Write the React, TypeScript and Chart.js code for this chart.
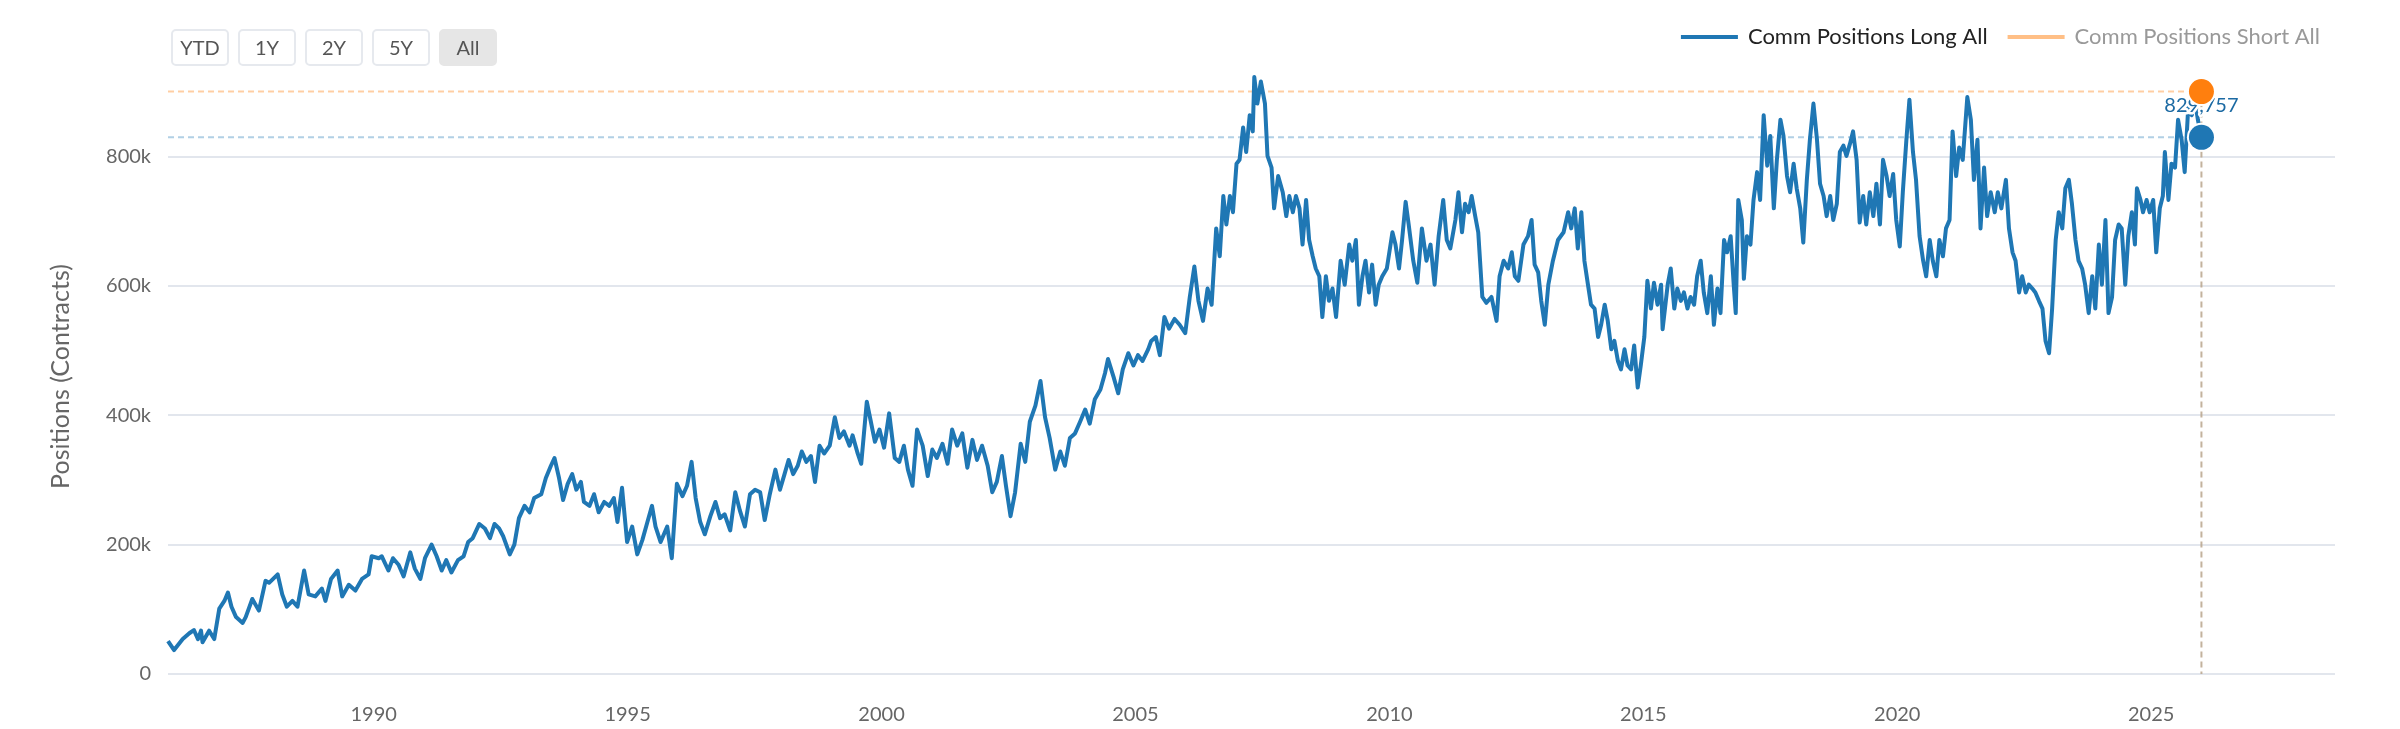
import React, { useEffect, useRef } from 'react';
import { Chart, registerables } from 'chart.js';

Chart.register(...registerables);

// ---- DATA ----
// Dates as decimal years, values in thousands of contracts
const longDates: number[] = [
  1985.95, 1986.07, 1986.24, 1986.37, 1986.46, 1986.54, 1986.60, 1986.63, 1986.76, 1986.86, 1986.96,
  1987.06, 1987.13, 1987.20, 1987.29, 1987.42, 1987.48, 1987.61, 1987.74, 1987.87, 1987.94,
  1988.11, 1988.20, 1988.29, 1988.40, 1988.50, 1988.63, 1988.72, 1988.85, 1988.98,
  1989.05, 1989.16, 1989.29, 1989.38, 1989.51, 1989.64, 1989.77, 1989.90, 1989.96,
  1990.10, 1990.16, 1990.29, 1990.38, 1990.49, 1990.59, 1990.72, 1990.81, 1990.92,
  1991.01, 1991.14, 1991.24, 1991.34, 1991.43, 1991.53, 1991.66, 1991.77, 1991.86, 1991.95,
  1992.08, 1992.19, 1992.29, 1992.38, 1992.47, 1992.55, 1992.68, 1992.77, 1992.86, 1992.97,
  1993.07, 1993.16, 1993.30, 1993.39, 1993.49, 1993.56, 1993.65, 1993.73, 1993.82, 1993.91, 1993.99,
  1994.08, 1994.14, 1994.25, 1994.34, 1994.43, 1994.54, 1994.64, 1994.73, 1994.80, 1994.89, 1994.99,
  1995.09, 1995.19, 1995.29, 1995.39, 1995.48, 1995.55, 1995.65, 1995.78, 1995.87, 1995.97,
  1996.08, 1996.17, 1996.26, 1996.34, 1996.43, 1996.52, 1996.63, 1996.73, 1996.82, 1996.91,
  1997.02, 1997.12, 1997.21, 1997.31, 1997.41, 1997.51, 1997.61, 1997.70, 1997.80, 1997.91,
  1998.00, 1998.09, 1998.17, 1998.26, 1998.35, 1998.43, 1998.52, 1998.61, 1998.69, 1998.78, 1998.87, 1998.98,
  1999.08, 1999.17, 1999.26, 1999.37, 1999.43, 1999.53, 1999.60, 1999.71, 1999.79, 1999.87, 1999.96,
  2000.05, 2000.15, 2000.26, 2000.35, 2000.44, 2000.52, 2000.61, 2000.70, 2000.81, 2000.91,
  2001.00, 2001.09, 2001.20, 2001.30, 2001.39, 2001.49, 2001.59, 2001.69, 2001.79, 2001.88, 2001.98,
  2002.09, 2002.18, 2002.27, 2002.37, 2002.45, 2002.54, 2002.63, 2002.74, 2002.83, 2002.92,
  2003.03, 2003.13, 2003.22, 2003.31, 2003.42, 2003.52, 2003.61, 2003.71, 2003.81, 2003.91,
  2004.01, 2004.10, 2004.20, 2004.31, 2004.40, 2004.46, 2004.57, 2004.66, 2004.75, 2004.86, 2004.96,
  2005.05, 2005.14, 2005.25, 2005.31, 2005.40, 2005.48, 2005.57, 2005.66, 2005.77, 2005.87, 2005.98,
  2006.07, 2006.16, 2006.24, 2006.33, 2006.42, 2006.50, 2006.59, 2006.66, 2006.73, 2006.79, 2006.86, 2006.92, 2006.99,
  2007.05, 2007.12, 2007.18, 2007.25, 2007.31, 2007.34, 2007.40, 2007.47, 2007.55, 2007.60, 2007.68, 2007.73, 2007.81, 2007.90, 2007.97,
  2008.03, 2008.10, 2008.16, 2008.23, 2008.29, 2008.36, 2008.42, 2008.49, 2008.55, 2008.62, 2008.68, 2008.75, 2008.81, 2008.88, 2008.95,
  2009.04, 2009.12, 2009.21, 2009.27, 2009.34, 2009.40, 2009.47, 2009.53, 2009.60, 2009.66, 2009.73, 2009.79, 2009.86, 2009.95,
  2010.06, 2010.12, 2010.19, 2010.25, 2010.32, 2010.38, 2010.47, 2010.55, 2010.64, 2010.73, 2010.81, 2010.89, 2010.97,
  2011.06, 2011.13, 2011.20, 2011.30, 2011.36, 2011.43, 2011.49, 2011.56, 2011.62, 2011.69, 2011.75, 2011.83, 2011.91,
  2012.01, 2012.11, 2012.17, 2012.25, 2012.34, 2012.41, 2012.47, 2012.54, 2012.64, 2012.73, 2012.80, 2012.86, 2012.93, 2012.99,
  2013.06, 2013.13, 2013.22, 2013.32, 2013.43, 2013.52, 2013.58, 2013.65, 2013.71, 2013.78, 2013.84, 2013.91, 2013.97,
  2014.04, 2014.11, 2014.17, 2014.24, 2014.30, 2014.37, 2014.43, 2014.50, 2014.56, 2014.63, 2014.69, 2014.76, 2014.82, 2014.89, 2014.95,
  2015.02, 2015.08, 2015.15, 2015.21, 2015.28, 2015.35, 2015.38, 2015.48, 2015.54, 2015.61, 2015.67, 2015.74, 2015.80, 2015.87, 2015.93,
  2016.00, 2016.06, 2016.13, 2016.19, 2016.26, 2016.33, 2016.39, 2016.46, 2016.52, 2016.59, 2016.65, 2016.72, 2016.78, 2016.82, 2016.87, 2016.94, 2016.98,
  2017.04, 2017.11, 2017.17, 2017.24, 2017.30, 2017.37, 2017.44, 2017.50, 2017.57, 2017.63, 2017.70, 2017.76, 2017.83, 2017.89, 2017.96,
  2018.02, 2018.09, 2018.15, 2018.22, 2018.28, 2018.35, 2018.42, 2018.48, 2018.55, 2018.61, 2018.68, 2018.74, 2018.81, 2018.87, 2018.94,
  2019.00, 2019.07, 2019.13, 2019.20, 2019.26, 2019.33, 2019.39, 2019.46, 2019.53, 2019.59, 2019.66, 2019.72, 2019.79, 2019.85, 2019.92, 2019.98,
  2020.05, 2020.11, 2020.18, 2020.24, 2020.31, 2020.37, 2020.44, 2020.51, 2020.57, 2020.64, 2020.70, 2020.77, 2020.83, 2020.90, 2020.96,
  2021.03, 2021.09, 2021.16, 2021.22, 2021.29, 2021.38, 2021.45, 2021.51, 2021.58, 2021.64, 2021.71, 2021.77, 2021.84, 2021.92, 2021.98,
  2022.05, 2022.14, 2022.20, 2022.27, 2022.33, 2022.40, 2022.46, 2022.53, 2022.59, 2022.66, 2022.72, 2022.79, 2022.86, 2022.92, 2022.99,
  2023.05, 2023.12, 2023.18, 2023.25, 2023.31, 2023.38, 2023.44, 2023.51, 2023.57, 2023.64, 2023.70, 2023.77, 2023.84, 2023.90, 2023.97,
  2024.03, 2024.10, 2024.16, 2024.23, 2024.29, 2024.36, 2024.42, 2024.49, 2024.55, 2024.62, 2024.68, 2024.72, 2024.79, 2024.84, 2024.91, 2024.97,
  2025.04, 2025.10, 2025.17, 2025.23, 2025.27, 2025.34, 2025.40, 2025.47, 2025.53, 2025.60, 2025.66, 2025.73, 2025.80, 2025.86, 2025.92, 2025.99,
];

const longValuesK: number[] = [
  51, 37, 54, 63, 68, 54, 67, 49, 67, 54, 101,
  113, 126, 104, 88, 79, 88, 116, 98, 144, 141,
  154, 123, 104, 113, 104, 160, 123, 120, 132,
  113, 147, 160, 120, 138, 129, 147, 154, 182,
  179, 182, 160, 179, 169, 151, 188, 163, 147,
  179, 200, 182, 160, 176, 157, 176, 182, 204, 210,
  232, 225, 210, 232, 225, 213, 185, 200, 241, 260,
  250, 272, 278, 303, 322, 334, 303, 269, 294, 309, 285,
  297, 266, 260, 278, 250, 266, 260, 272, 235, 288, 204,
  228, 185, 207, 235, 260, 228, 204, 228, 179, 294,
  275, 291, 328, 272, 235, 216, 244, 266, 241, 247,
  222, 281, 253, 228, 278, 285, 281, 238, 278, 316,
  285, 309, 331, 309, 322, 344, 328, 337, 297, 353, 341, 353,
  397, 365, 375, 353, 369, 341, 325, 421, 390, 359, 378,
  350, 403, 334, 328, 353, 316, 291, 378, 353, 306,
  347, 334, 356, 325, 378, 353, 372, 319, 362, 331, 353,
  322, 281, 297, 337, 291, 244, 281, 356, 328, 390,
  415, 453, 397, 365, 316, 344, 322, 365, 372, 390,
  409, 387, 425, 440, 465, 487, 459, 434, 471, 496, 477,
  493, 484, 502, 515, 521, 493, 552, 534, 549, 540, 527,
  583, 630, 577, 546, 596, 571, 689, 646, 739, 695, 739, 714, 789,
  795, 845, 807, 864, 839, 923, 882, 916, 882, 801, 783, 720, 770, 745, 708,
  739, 714, 739, 720, 664, 733, 671, 646, 627, 615, 552, 615, 577, 596, 552,
  639, 602, 664, 639, 671, 571, 615, 639, 590, 633, 571, 602, 615, 627,
  683, 664, 627, 671, 730, 695, 639, 605, 689, 639, 664, 602, 677,
  733, 671, 658, 702, 745, 683, 727, 714, 739, 708, 683, 583, 574,
  583, 546, 615, 639, 627, 652, 615, 608, 664, 677, 702, 633, 621, 577,
  540, 602, 639, 671, 683, 714, 689, 720, 658, 714, 639, 602, 571,
  565, 521, 540, 571, 546, 502, 515, 484, 471, 502, 477, 471, 508, 443, 477,
  521, 608, 565, 605, 571, 602, 533, 602, 627, 565, 596, 577, 590, 565, 583,
  571, 615, 639, 590, 558, 615, 540, 596, 558, 671, 652, 677, 602, 558, 733, 702, 611,
  677, 664, 733, 776, 733, 864, 786, 832, 720, 795, 857, 832, 770, 745, 789,
  751, 720, 667, 764, 826, 882, 826, 758, 739, 708, 739, 702, 727, 807, 817,
  801, 820, 839, 795, 698, 739, 695, 745, 708, 758, 695, 795, 770, 739, 773, 702,
  661, 745, 826, 888, 807, 764, 677, 639, 615, 671, 639, 615, 671, 646, 689,
  702, 839, 770, 814, 795, 892, 857, 764, 826, 689, 783, 708, 745, 714, 745,
  720, 764, 689, 652, 639, 590, 615, 590, 602, 596, 590, 577, 565, 515, 496,
  565, 671, 714, 689, 751, 764, 727, 671, 639, 627, 602, 558, 615, 565, 664,
  602, 702, 558, 583, 671, 695, 689, 602, 677, 714, 664, 751, 733, 714, 733, 714,
  733, 652, 720, 739, 807, 733, 789, 783, 857, 826, 776, 876, 864, 888, 857, 829.757,
];

// The short series is hidden in the legend; only its latest value is marked
const shortLastDate = 2025.99;
const shortLastValueK = 900.5;

const seriesNames = ['Comm Positions Long All', 'Comm Positions Short All'];
const xTickYears = [1990, 1995, 2000, 2005, 2010, 2015, 2020, 2025];
const yTickValues = [0, 200000, 400000, 600000, 800000];
const rangeButtons = ['YTD', '1Y', '2Y', '5Y', 'All'];
const activeButton = 'All';
const yAxisTitle = 'Positions (Contracts)';

// ---- STYLE ----
const FONT = "Lato, 'Open Sans', 'DejaVu Sans', sans-serif";
const LONG_COLOR = '#1f77b4';
const SHORT_COLOR = '#ff7f0e';

const lastValuePlugin = {
  id: 'lastValueMarkers',
  beforeDatasetsDraw(chart: any) {
    const { ctx, chartArea, scales } = chart;
    const x = scales.x;
    const y = scales.y;
    const n = longDates.length - 1;
    const xl = x.getPixelForValue(longDates[n]);
    const yl = y.getPixelForValue(longValuesK[n] * 1000);
    const xs = x.getPixelForValue(shortLastDate);
    const ys = y.getPixelForValue(shortLastValueK * 1000);
    ctx.save();
    ctx.lineWidth = 2;
    ctx.setLineDash([6, 4]);
    ctx.strokeStyle = 'rgba(255,127,14,0.38)';
    ctx.beginPath();
    ctx.moveTo(chartArea.left, ys);
    ctx.lineTo(xs, ys);
    ctx.stroke();
    ctx.strokeStyle = 'rgba(31,119,180,0.35)';
    ctx.beginPath();
    ctx.moveTo(chartArea.left, yl);
    ctx.lineTo(xl, yl);
    ctx.stroke();
    ctx.strokeStyle = 'rgba(185,165,140,0.85)';
    ctx.beginPath();
    ctx.moveTo(xs, ys);
    ctx.lineTo(xs, chartArea.bottom);
    ctx.stroke();
    ctx.restore();
  },
  afterDatasetsDraw(chart: any) {
    const { ctx, scales } = chart;
    const x = scales.x;
    const y = scales.y;
    const n = longDates.length - 1;
    const lastVal = Math.round(longValuesK[n] * 1000);
    const xl = x.getPixelForValue(longDates[n]);
    const yl = y.getPixelForValue(lastVal);
    const xs = x.getPixelForValue(shortLastDate);
    const ys = y.getPixelForValue(shortLastValueK * 1000);
    ctx.save();
    // value label
    ctx.font = `20px ${FONT}`;
    ctx.textAlign = 'center';
    ctx.textBaseline = 'middle';
    const label = lastVal.toLocaleString('en-US');
    ctx.lineJoin = 'round';
    ctx.lineWidth = 5;
    ctx.strokeStyle = '#ffffff';
    ctx.strokeText(label, xl, yl - 32);
    ctx.fillStyle = '#1c6aa3';
    ctx.fillText(label, xl, yl - 32);
    // markers
    const dot = (cx: number, cy: number, color: string) => {
      ctx.beginPath();
      ctx.arc(cx, cy, 14.5, 0, Math.PI * 2);
      ctx.fillStyle = '#ffffff';
      ctx.fill();
      ctx.beginPath();
      ctx.arc(cx, cy, 12.5, 0, Math.PI * 2);
      ctx.fillStyle = color;
      ctx.fill();
    };
    dot(xl, yl, LONG_COLOR);
    dot(xs, ys, SHORT_COLOR);
    ctx.restore();
  },
  afterDraw(chart: any) {
    const { ctx } = chart;
    ctx.save();
    ctx.font = `22px ${FONT}`;
    ctx.textBaseline = 'middle';
    ctx.textAlign = 'left';
    const right = 2320;
    const cy = 37;
    const symW = 57;
    const symGap = 10;
    const itemGap = 20;
    const w2 = ctx.measureText(seriesNames[1]).width;
    const w1 = ctx.measureText(seriesNames[0]).width;
    const t2 = right - w2;
    const s2 = t2 - symGap - symW;
    const t1 = s2 - itemGap - w1;
    const s1 = t1 - symGap - symW;
    ctx.fillStyle = LONG_COLOR;
    ctx.fillRect(s1, cy - 2, symW, 4);
    ctx.fillStyle = '#222222';
    ctx.fillText(seriesNames[0], t1, cy);
    ctx.fillStyle = 'rgba(255,127,14,0.5)';
    ctx.fillRect(s2, cy - 2, symW, 4);
    ctx.fillStyle = '#999999';
    ctx.fillText(seriesNames[1], t2, cy);
    ctx.restore();
  },
};

export default function App() {
  const canvasRef = useRef<HTMLCanvasElement | null>(null);

  useEffect(() => {
    if (!canvasRef.current) return;
    const longData = longDates.map((d, i) => ({ x: d, y: longValuesK[i] * 1000 }));
    const chart = new Chart(canvasRef.current, {
      type: 'line',
      data: {
        datasets: [
          {
            label: seriesNames[0],
            data: longData,
            borderColor: LONG_COLOR,
            backgroundColor: LONG_COLOR,
            borderWidth: 4,
            pointRadius: 0,
            tension: 0,
            borderJoinStyle: 'round',
            clip: false,
          },
          {
            label: seriesNames[1],
            data: [{ x: shortLastDate, y: shortLastValueK * 1000 }],
            borderColor: SHORT_COLOR,
            backgroundColor: SHORT_COLOR,
            pointRadius: 0,
            hidden: true,
          },
        ],
      },
      options: {
        animation: false,
        responsive: false,
        devicePixelRatio: 1,
        events: [],
        layout: { padding: { top: 79, right: 65, left: 0, bottom: 0 } },
        plugins: {
          legend: { display: false },
          tooltip: { enabled: false },
        },
        scales: {
          x: {
            type: 'linear',
            min: 1985.95,
            max: 2028.62,
            grid: { display: false, drawTicks: false },
            border: { display: false },
            afterBuildTicks: (s: any) => {
              s.ticks = xTickYears.map((v) => ({ value: v }));
            },
            afterFit: (s: any) => {
              s.height = 55;
            },
            ticks: {
              color: '#666666',
              font: { family: FONT, size: 20 },
              padding: 29,
              maxRotation: 0,
              autoSkip: false,
              callback: (v: any) => String(v),
            },
          },
          y: {
            type: 'linear',
            min: 0,
            max: 920000,
            grid: { color: '#e2e6ed', lineWidth: 2, drawTicks: false },
            border: { display: false },
            afterBuildTicks: (s: any) => {
              s.ticks = yTickValues.map((v) => ({ value: v }));
            },
            afterFit: (s: any) => {
              s.width = 168;
            },
            ticks: {
              color: '#666666',
              font: { family: FONT, size: 20 },
              padding: 17,
              callback: (v: any) => (v === 0 ? '0' : `${v / 1000}k`),
            },
            title: {
              display: true,
              text: yAxisTitle,
              color: '#666666',
              font: { family: FONT, size: 25 },
              padding: { top: 46, bottom: 0 },
            },
          },
        },
      },
      plugins: [lastValuePlugin],
    });
    return () => chart.destroy();
  }, []);

  return (
    <div style={{ position: 'absolute', left: 0, top: 0, width: 2400, height: 729, background: '#ffffff', overflow: 'hidden' }}>
      <canvas ref={canvasRef} width={2400} height={729} style={{ position: 'absolute', left: 0, top: 0, width: 2400, height: 729 }} />
      <div style={{ position: 'absolute', left: 171, top: 29, display: 'flex', gap: 9 }}>
        {rangeButtons.map((b) => (
          <button
            key={b}
            style={{
              width: 58,
              height: 37,
              padding: 0,
              margin: 0,
              borderRadius: 5,
              border: b === activeButton ? '2px solid #e6e6e6' : '2px solid #e6e9ee',
              background: b === activeButton ? '#e6e6e6' : '#ffffff',
              color: '#555555',
              fontFamily: FONT,
              fontSize: 20,
              lineHeight: '33px',
              cursor: 'pointer',
            }}
          >
            {b}
          </button>
        ))}
      </div>
    </div>
  );
}
